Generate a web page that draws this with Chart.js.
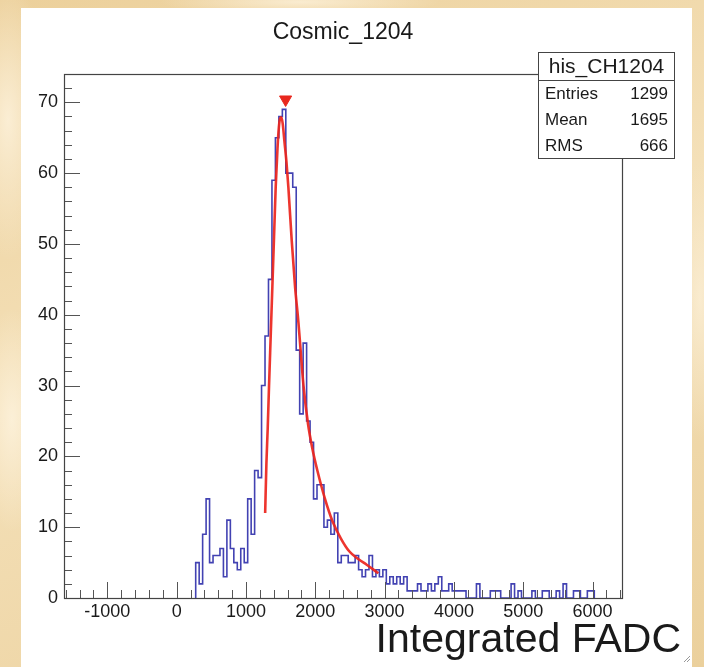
<!DOCTYPE html>
<html><head><meta charset="utf-8">
<script src="https://cdn.jsdelivr.net/npm/chart.js@4.4.1/dist/chart.umd.min.js"></script>
<style>
html,body{margin:0;padding:0;width:704px;height:667px;overflow:hidden;}
body{background-color:#efd6a6;
background-image:
 radial-gradient(ellipse 60px 200px at 8px 120px, rgba(255,246,228,.75), rgba(255,246,228,0) 70%),
 radial-gradient(ellipse 50px 160px at 12px 420px, rgba(255,246,228,.7), rgba(255,246,228,0) 70%),
 radial-gradient(ellipse 200px 20px at 300px 2px, rgba(255,246,228,.7), rgba(255,246,228,0) 70%),
 radial-gradient(ellipse 40px 200px at 700px 300px, rgba(255,246,228,.6), rgba(255,246,228,0) 70%),
 linear-gradient(160deg,#ecd09b,#f4e0b8 45%,#ebd09c);}
#panel{position:absolute;left:21px;top:8px;width:671px;height:659px;background:#fff;}
#c{position:absolute;left:0;top:0;}
</style></head><body>
<div id="panel"></div>
<canvas id="c" width="704" height="667"></canvas>
<script>
// ---- text ----
const chartTitle = "Cosmic_1204";
const xAxisTitle = "Integrated FADC";
const histName = "his_CH1204";
const statLabels = ["Entries", "Mean", "RMS"];
const statValues = ["1299", "1695", "666"];

// ---- axes ----
const xRange = [-1625, 6425];
const yRange = [0, 74];
const xTickLabels = [-1000, 0, 1000, 2000, 3000, 4000, 5000, 6000];
const yTickLabels = [0, 10, 20, 30, 40, 50, 60, 70];
const xMinorStep = 200;
const yMinorStep = 2;

// ---- histogram (50-wide bins, first bin low edge 275) ----
const binLowEdge = 275;
const binWidth = 50;
const counts = [
  3, 5, 2, 9, 14, 5, 6, 6, 7, 3, 11, 7, 5, 4, 7, 5, 14, 9, 18, 17,        // 300 .. 1250
  30, 37, 45, 59, 65, 68, 69, 60, 60, 58, 35, 26, 36, 25,                 // 1300 .. 1950
  22, 14, 16, 16, 10, 11, 9, 12, 5, 6, 6, 5, 5, 6, 4, 3, 4, 6, 3, 4,      // 2000 .. 2950
  3, 4, 2, 3, 2, 3, 2, 3, 1, 1, 1, 2, 1, 1, 2, 1, 2, 3, 1, 1,             // 3000 .. 3950
  2, 1, 1, 1, 1, 0, 0, 0, 2, 0, 0, 0, 1, 1, 1, 0, 0, 0, 2, 0,             // 4000 .. 4950
  1, 0, 0, 0, 1, 0, 0, 1, 1, 0, 0, 1, 0, 2, 0, 0, 1, 1, 0, 0,             // 5000 .. 5950
  1                                                                        // 6000
];

// ---- fit curve ----
const fitX = [1277, 1295, 1314, 1333, 1357, 1381, 1405, 1429, 1455, 1475, 1492, 1510, 1530, 1555, 1585, 1612, 1660, 1708, 1756, 1830, 1895, 1960, 2030, 2140, 2250, 2370, 2490, 2620, 2742, 2910];
const fitY = [12, 19, 24, 30, 37, 44, 51, 58, 63.5, 66.5, 67.7, 67.9, 67, 64.5, 61.5, 58, 50.5, 44, 39, 30, 24.6, 21, 18, 14, 10.8, 8.4, 6.6, 5.5, 4.7, 3.5];

// ---- peak marker ----
const peakX = [1572];
const peakY = [70.4];

// build step outline from bins
const histPts = [{x: binLowEdge, y: 0}];
counts.forEach((c, i) => histPts.push({x: binLowEdge + i * binWidth, y: c}));
histPts.push({x: binLowEdge + counts.length * binWidth, y: counts[counts.length - 1]});
histPts.push({x: binLowEdge + counts.length * binWidth, y: 0});

const fitPts = fitX.map((v, i) => ({x: v, y: fitY[i]}));
const peakPts = peakX.map((v, i) => ({x: v, y: peakY[i]}));

const FONT = '"Liberation Sans", Arial, Helvetica, sans-serif';

const rootDeco = {
  id: 'rootDeco',
  afterDatasetsDraw(chart) {
    const {ctx, chartArea: a, scales: {x, y}} = chart;
    ctx.save();
    // tick marks (inside frame)
    ctx.strokeStyle = '#555';
    ctx.lineWidth = 1;
    ctx.beginPath();
    for (let v = -1600; v <= xRange[1]; v += xMinorStep) {
      const px = Math.round(x.getPixelForValue(v)) + 0.5;
      const len = (v % 1000 === 0) ? 16 : 8;
      ctx.moveTo(px, a.bottom); ctx.lineTo(px, a.bottom - len);
    }
    for (let v = 0; v <= yRange[1]; v += yMinorStep) {
      const py = Math.round(y.getPixelForValue(v)) + 0.5;
      const len = (v % 10 === 0) ? 16 : 8;
      ctx.moveTo(a.left, py); ctx.lineTo(a.left + len, py);
    }
    ctx.stroke();
    // frame
    ctx.strokeStyle = '#444';
    ctx.lineWidth = 1.2;
    ctx.strokeRect(a.left + 0.5, a.top + 0.5, a.right - a.left, a.bottom - a.top);

    // title
    ctx.fillStyle = '#1a1a1a';
    ctx.font = '23px ' + FONT;
    ctx.textAlign = 'center';
    ctx.textBaseline = 'middle';
    ctx.fillText(chartTitle, 343, 33);

    // x title
    ctx.font = '41px ' + FONT;
    ctx.textAlign = 'right';
    ctx.textBaseline = 'alphabetic';
    ctx.fillText(xAxisTitle, 681, 652);

    // stats box
    const bx = 538.5, by = 52.5, bw = 136, bh = 106;
    ctx.fillStyle = '#fff';
    ctx.fillRect(bx, by, bw, bh);
    ctx.strokeStyle = '#444';
    ctx.lineWidth = 1;
    ctx.strokeRect(bx, by, bw, bh);
    ctx.beginPath(); ctx.moveTo(bx, 80.5); ctx.lineTo(bx + bw, 80.5); ctx.stroke();
    ctx.fillStyle = '#1a1a1a';
    ctx.font = '21px ' + FONT;
    ctx.textAlign = 'center';
    ctx.textBaseline = 'middle';
    ctx.fillText(histName, bx + bw / 2, 67);
    ctx.font = '17px ' + FONT;
    statLabels.forEach((s, i) => {
      const ty = 94 + i * 26;
      ctx.textAlign = 'left';
      ctx.fillText(s, 545, ty);
      ctx.textAlign = 'right';
      ctx.fillText(statValues[i], 668, ty);
    });

    // small resize grip mark in the bottom-right corner
    ctx.strokeStyle = '#999';
    ctx.lineWidth = 1;
    ctx.beginPath();
    ctx.moveTo(684, 662); ctx.lineTo(690, 656);
    ctx.moveTo(687, 662); ctx.lineTo(690, 659);
    ctx.stroke();
    ctx.restore();
  }
};

new Chart(document.getElementById('c'), {
  type: 'scatter',
  data: {
    datasets: [
      {
        label: 'peak', data: peakPts, order: 0,
        pointStyle: 'triangle', rotation: 180, radius: 7,
        backgroundColor: 'rgb(232,40,30)', borderColor: 'rgb(232,40,30)', borderWidth: 1,
        showLine: false
      },
      {
        label: 'fit', data: fitPts, order: 1, showLine: true,
        borderColor: 'rgba(236,36,28,0.92)', borderWidth: 2.6,
        pointRadius: 0, cubicInterpolationMode: 'monotone', fill: false
      },
      {
        label: histName, data: histPts, order: 2, showLine: true, stepped: 'after',
        borderColor: 'rgba(45,45,170,0.9)', borderWidth: 1.6,
        pointRadius: 0, fill: false
      }
    ]
  },
  options: {
    responsive: false,
    animation: false,
    events: [],
    layout: {padding: {left: 0, top: 74, right: 82, bottom: 0}},
    plugins: {legend: {display: false}, tooltip: {enabled: false}, title: {display: false}},
    scales: {
      x: {
        type: 'linear', min: xRange[0], max: xRange[1],
        grid: {display: false, drawTicks: false}, border: {display: false},
        afterBuildTicks: s => { s.ticks = xTickLabels.map(v => ({value: v})); },
        afterFit: s => { s.height = 69; },
        ticks: {autoSkip: false, maxRotation: 0, padding: 3, color: '#1a1a1a',
                font: {family: FONT, size: 18}, callback: v => String(v)}
      },
      y: {
        type: 'linear', min: yRange[0], max: yRange[1],
        grid: {display: false, drawTicks: false}, border: {display: false},
        afterBuildTicks: s => { s.ticks = yTickLabels.map(v => ({value: v})); },
        afterFit: s => { s.width = 64; },
        ticks: {autoSkip: false, padding: 6, color: '#1a1a1a',
                font: {family: FONT, size: 18}, callback: v => String(v)}
      }
    }
  },
  plugins: [rootDeco]
});
</script>
</body></html>
